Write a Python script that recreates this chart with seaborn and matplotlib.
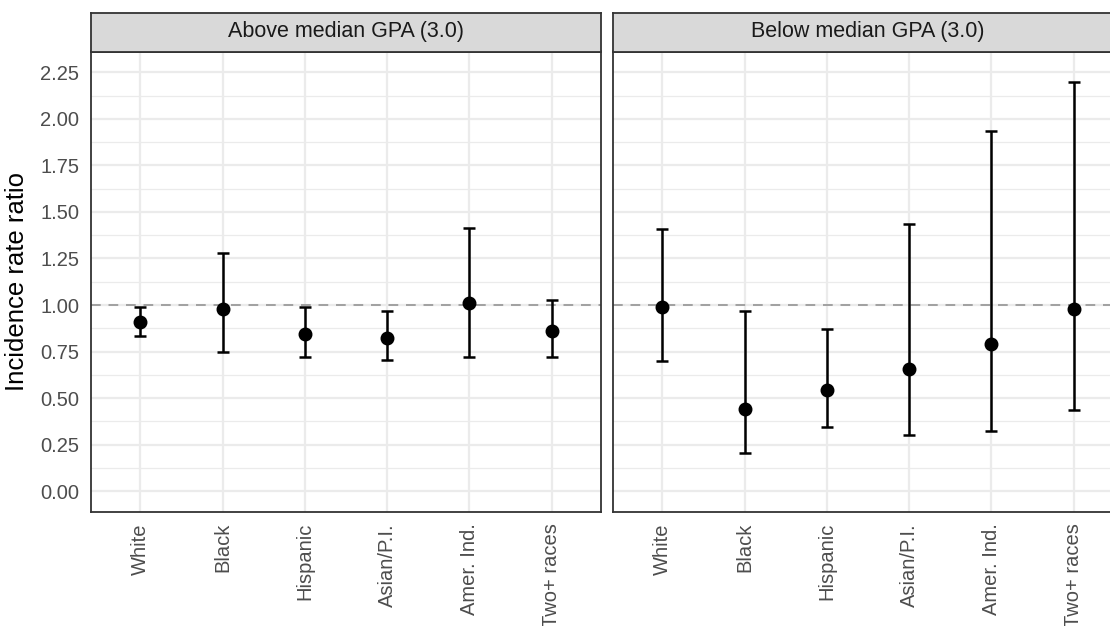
import numpy as np
import pandas as pd
import matplotlib
matplotlib.use("Agg")
import matplotlib.pyplot as plt
from matplotlib.ticker import MultipleLocator
import seaborn as sns

# ---- data ----
categories = ["White", "Black", "Hispanic", "Asian/P.I.", "Amer. Ind.", "Two+ races"]
panels = ["Above median GPA (3.0)", "Below median GPA (3.0)"]

above_est = [0.908, 0.977, 0.845, 0.823, 1.010, 0.859]
above_lo = [0.831, 0.750, 0.721, 0.704, 0.723, 0.721]
above_hi = [0.991, 1.278, 0.990, 0.966, 1.413, 1.026]

below_est = [0.991, 0.443, 0.545, 0.654, 0.793, 0.977]
below_lo = [0.698, 0.204, 0.343, 0.300, 0.325, 0.434]
below_hi = [1.411, 0.967, 0.870, 1.436, 1.937, 2.200]

y_ticks = [0.00, 0.25, 0.50, 0.75, 1.00, 1.25, 1.50, 1.75, 2.00, 2.25]
ref_line = 1.0
y_label = "Incidence rate ratio"

df = pd.DataFrame({
    "panel": [panels[0]] * 6 + [panels[1]] * 6,
    "race": categories * 2,
    "est": above_est + below_est,
    "lo": above_lo + below_lo,
    "hi": above_hi + below_hi,
})

sns.set_theme(style="white")
plt.rcParams["font.family"] = ["Liberation Sans", "DejaVu Sans"]

W, H = 1110, 626
fig = plt.figure(figsize=(W / 100, H / 100), dpi=100)

def fx(px):
    return px / W

def fy(py):
    return 1 - py / H

panel_top, panel_bot = 51.5, 512
strip_top = 12.5
lefts = [91, 613]
pw = 510

border_col = "#333333"
tick_col = "#4D4D4D"

for i, pname in enumerate(panels):
    sub = df[df["panel"] == pname].reset_index(drop=True)
    ax = fig.add_axes([fx(lefts[i]), fy(panel_bot), fx(pw), fy(panel_top) - fy(panel_bot)])
    ax.set_facecolor("white")
    pos = np.arange(len(categories))
    # errorbars
    ax.errorbar(pos, sub["est"], yerr=[sub["est"] - sub["lo"], sub["hi"] - sub["est"]],
                fmt="none", ecolor="black", elinewidth=1.8, capsize=4.5, capthick=1.8, zorder=3)
    sns.pointplot(data=sub, x="race", y="est", order=categories, linestyle="none",
                  color="black", markers="o", markersize=8, errorbar=None, ax=ax, zorder=4)
    ax.axhline(ref_line, color="#A0A0A0", lw=1.4, linestyle=(0, (5, 4)), zorder=2)

    ax.set_xlim(-0.6, len(categories) - 0.4)
    ax.set_ylim(-0.1125, 2.3625)
    ax.set_yticks(y_ticks)
    ax.yaxis.set_minor_locator(MultipleLocator(0.125))
    ax.grid(which="major", axis="both", color="#EBEBEB", lw=1.6, zorder=0)
    ax.grid(which="minor", axis="y", color="#EBEBEB", lw=0.9, zorder=0)
    ax.set_axisbelow(True)
    for s in ax.spines.values():
        s.set_color(border_col)
        s.set_linewidth(1.3)
    ax.tick_params(axis="both", which="major", length=5, width=1.2, color=border_col,
                   labelcolor=tick_col, labelsize=14.5, direction="out")
    ax.tick_params(axis="both", which="minor", length=0)
    ax.tick_params(axis="x", pad=3)
    ax.set_xticks(pos)
    ax.set_xticklabels(categories, rotation=90, ha="center", va="top")
    ax.set_xlabel("")
    if i == 0:
        ax.set_ylabel(y_label, fontsize=18.5, color="black", labelpad=8)
        ax.set_yticklabels([f"{t:.2f}" for t in y_ticks])
    else:
        ax.set_ylabel("")
        ax.tick_params(axis="y", which="both", length=0, labelleft=False)

    # strip
    sax = fig.add_axes([fx(lefts[i]), fy(panel_top), fx(pw), fy(strip_top) - fy(panel_top)])
    sax.set_facecolor("#D9D9D9")
    sax.set_xticks([])
    sax.set_yticks([])
    for s in sax.spines.values():
        s.set_color(border_col)
        s.set_linewidth(1.3)
    sax.text(0.5, 0.5, pname, ha="center", va="center", fontsize=15.5, color="#1A1A1A",
             transform=sax.transAxes)

fig.savefig("out.png", dpi=100, facecolor="white")
